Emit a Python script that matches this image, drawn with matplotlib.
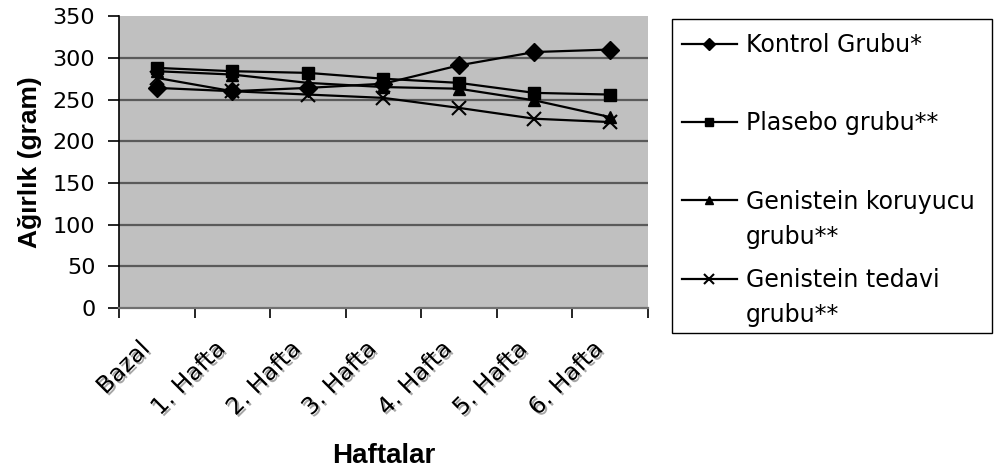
import matplotlib
matplotlib.use("Agg")
import matplotlib.pyplot as plt
import matplotlib.patheffects as pe
import matplotlib.transforms as mtransforms
from matplotlib.patches import Rectangle
import numpy as np

plt.rcParams['font.family'] = ['DejaVu Sans']

categories = ["Bazal", "1. Hafta", "2. Hafta", "3. Hafta", "4. Hafta", "5. Hafta", "6. Hafta"]
kontrol = [264, 260, 264, 269, 291, 307, 310]
plasebo = [288, 284, 282, 275, 270, 258, 256]
koruyucu = [284, 280, 270, 265, 263, 249, 229]
tedavi = [276, 260, 256, 252, 240, 227, 223]
labels = ["Kontrol Grubu*", "Plasebo grubu**", "Genistein koruyucu\ngrubu**", "Genistein tedavi\ngrubu**"]
yticks = [0, 50, 100, 150, 200, 250, 300, 350]

W, H = 994, 476
fig = plt.figure(figsize=(W / 100, H / 100), dpi=100)
ax = fig.add_axes([0.1197, 0.353, 0.532, 0.613])
ax.set_facecolor('#C0C0C0')

x = np.arange(len(categories))
series = [kontrol, plasebo, koruyucu, tedavi]
markers = ['D', 's', '^', 'x']
msizes = [9, 8.5, 8.5, 10]
handles = []
for s, m, ms, lab in zip(series, markers, msizes, labels):
    h, = ax.plot(x, s, color='black', lw=1.6, marker=m, markersize=ms,
                 markeredgewidth=1.5 if m == 'x' else 1.0, label=lab)
    handles.append(h)

ax.set_xlim(-0.5, len(categories) - 0.5)
ax.set_ylim(0, 350)
ax.set_yticks(yticks)
ax.set_yticklabels([str(v) for v in yticks], fontsize=16)
ax.yaxis.grid(True, color='#5a5a5a', lw=1.6)
ax.set_axisbelow(True)
gl = ax.yaxis.get_gridlines()
gl[-1].set_visible(False)
gl[0].set_visible(False)

ax.set_xticks(x)
ax.set_xticklabels([])
ax.set_xticks(np.arange(-0.5, len(categories)), minor=True)
ax.tick_params(axis='x', which='major', length=0)
ax.tick_params(axis='x', which='minor', length=7, width=1.2, color='black')
ax.tick_params(axis='y', length=8, width=1.2, pad=9)

base = ax.get_xaxis_transform()
for xi, c in zip(x, categories):
    off = mtransforms.ScaledTranslation(-11 / 100, -37 / 100, fig.dpi_scale_trans)
    ax.text(xi, 0, c, rotation=45, rotation_mode='anchor', ha='right', va='center',
            fontsize=17, transform=base + off,
            path_effects=[pe.SimplePatchShadow(offset=(1.5, -1.5), shadow_rgbFace='#909090', alpha=0.8), pe.Normal()],
            clip_on=False)

for sp in ['top', 'right']:
    ax.spines[sp].set_visible(False)
ax.spines['left'].set_color('black')
ax.spines['left'].set_linewidth(1.2)
ax.spines['bottom'].set_color('#707070')
ax.spines['bottom'].set_linewidth(1.6)

ax.set_ylabel("Ağırlık (gram)", fontsize=19, fontweight='bold', labelpad=8,
              family=['Liberation Sans', 'DejaVu Sans'])
fig.text(0.386, 0.043, "Haftalar", fontsize=20, fontweight='bold', ha='center', va='center',
         family=['Liberation Sans', 'DejaVu Sans'])

# legend: first lines in the legend, continuation lines placed below
first_lines = [l.split("\n")[0] for l in labels]
fs_leg = 17
leg = fig.legend(handles=handles, labels=first_lines, loc='upper left',
                 bbox_to_anchor=(672 / W, 1 - 23 / H), frameon=False,
                 fontsize=fs_leg, handlelength=2.33, handletextpad=0.38,
                 labelspacing=2.3, markerscale=0.72, borderpad=0.42, borderaxespad=0)
fig.patches.append(Rectangle((672 / W, 1 - 333 / H), 320 / W, 314 / H,
                             transform=fig.transFigure, fill=False,
                             edgecolor='black', lw=1.0))

fig.canvas.draw()
inv = fig.transFigure.inverted()
for t, full in zip(leg.get_texts(), labels):
    parts = full.split("\n")
    if len(parts) > 1:
        bb = t.get_window_extent()
        x0, y0 = inv.transform((bb.x0, bb.y0))
        yd = 35 / H
        for k, p in enumerate(parts[1:], start=1):
            fig.text(x0, y0 - k * yd, p, fontsize=fs_leg, ha='left', va='bottom')

fig.savefig("out.png", dpi=100)
